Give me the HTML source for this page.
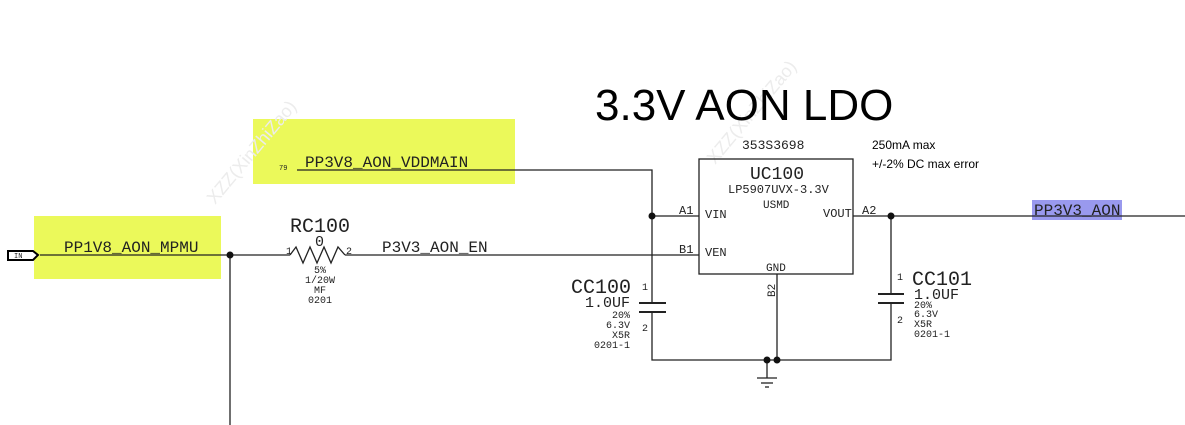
<!DOCTYPE html>
<html><head><meta charset="utf-8"><style>
body{margin:0;background:#fff;width:1185px;height:425px;overflow:hidden}
svg{display:block}
.m{font-family:"Liberation Mono","DejaVu Sans Mono",monospace;fill:#222}
.s{font-family:"Liberation Sans",sans-serif;fill:#000}
</style></head><body>
<svg width="1185" height="425" viewBox="0 0 1185 425">
<rect x="253" y="119" width="262" height="65" fill="#ebf95a"/>
<rect x="34" y="216" width="187" height="63" fill="#ebf95a"/>
<rect x="1032" y="200" width="90" height="20" fill="#9999ee"/>
<text x="215" y="205" transform="rotate(-50 215 205)" font-family="Liberation Sans" font-size="18" fill="#ececec">XZZ(XinZhiZao)</text>
<text x="715" y="165" transform="rotate(-50 715 165)" font-family="Liberation Sans" font-size="18" fill="#ececec">XZZ(XinZhiZao)</text>
<text x="595" y="120" class="s" font-size="44">3.3V AON LDO</text>
<text x="872" y="149" class="s" font-size="12">250mA max</text>
<text x="872" y="168" class="s" font-size="12">+/-2% DC max error</text>
<text x="742" y="149" class="m" font-size="13">353S3698</text>
<g stroke="#222" stroke-width="1.3" fill="none">
<rect x="699" y="159" width="154" height="115"/>
<polyline points="297,170 652,170 652,360 891,360 891,216"/>
<line x1="652" y1="216" x2="699" y2="216"/>
<line x1="40" y1="255" x2="290" y2="255"/>
<polyline points="290,255 296,247 303,263 310,247 317,263 324,247 331,263 338,247 345,255"/>
<line x1="345" y1="255" x2="699" y2="255"/>
<line x1="230" y1="255" x2="230" y2="425"/>
<line x1="777" y1="274" x2="777" y2="360"/>
<line x1="853" y1="216" x2="1185" y2="216"/>
<line x1="767" y1="360" x2="767" y2="378"/>
<line x1="757" y1="378" x2="777" y2="378"/>
<line x1="761" y1="383" x2="773" y2="383"/>
<line x1="765" y1="387" x2="769" y2="387"/>
</g>
<g stroke="#222" stroke-width="2">
<line x1="639" y1="303" x2="666" y2="303"/><line x1="639" y1="312" x2="666" y2="312"/>
<line x1="878" y1="294" x2="904" y2="294"/><line x1="878" y1="303" x2="904" y2="303"/>
</g>
<rect x="640" y="304" width="25" height="7" fill="#fff"/>
<rect x="879" y="295" width="24" height="7" fill="#fff"/>
<g fill="#111"><circle cx="230" cy="255" r="3.5"/><circle cx="652" cy="216" r="3.5"/><circle cx="891" cy="216" r="3.5"/><circle cx="767" cy="360" r="3.5"/><circle cx="777" cy="360" r="3.5"/></g>
<polygon points="8,251 33,251 38,255 33,260 8,260" fill="#fff" stroke="#000" stroke-width="2"/>
<text x="14" y="258" class="m" font-size="7">IN</text>
<text x="64" y="252" class="m" font-size="16">PP1V8_AON_MPMU</text>
<text x="279" y="170" class="m" font-size="7">79</text>
<text x="305" y="167" class="m" font-size="16">PP3V8_AON_VDDMAIN</text>
<text x="1034" y="215" class="m" font-size="16">PP3V3_AON</text>
<text x="382" y="252" class="m" font-size="16">P3V3_AON_EN</text>
<text x="290" y="232" class="m" font-size="20">RC100</text>
<text x="315" y="246" class="m" font-size="15">0</text>
<text x="286" y="254" class="m" font-size="10">1</text>
<text x="346" y="254" class="m" font-size="10">2</text>
<g class="m" font-size="10" text-anchor="middle"><text x="320" y="273">5%</text><text x="320" y="283">1/20W</text><text x="320" y="293">MF</text><text x="320" y="303">0201</text></g>
<text x="750" y="179" class="m" font-size="18">UC100</text>
<text x="728" y="193" class="m" font-size="12">LP5907UVX-3.3V</text>
<text x="763" y="208" class="m" font-size="11">USMD</text>
<text x="705" y="218" class="m" font-size="12">VIN</text>
<text x="705" y="256" class="m" font-size="12">VEN</text>
<text x="823" y="217" class="m" font-size="12">VOUT</text>
<text x="766" y="271" class="m" font-size="11">GND</text>
<text x="679" y="214" class="m" font-size="12">A1</text>
<text x="679" y="253" class="m" font-size="12">B1</text>
<text x="862" y="214" class="m" font-size="12">A2</text>
<text x="775" y="297" class="m" font-size="11" transform="rotate(-90 775 297)">B2</text>
<text x="571" y="293" class="m" font-size="20">CC100</text>
<text x="585" y="307" class="m" font-size="15">1.0UF</text>
<g class="m" font-size="10" text-anchor="end"><text x="630" y="318">20%</text><text x="630" y="328">6.3V</text><text x="630" y="338">X5R</text><text x="630" y="348">0201-1</text></g>
<text x="642" y="290" class="m" font-size="10">1</text>
<text x="642" y="331" class="m" font-size="10">2</text>
<text x="912" y="285" class="m" font-size="20">CC101</text>
<text x="914" y="299" class="m" font-size="15">1.0UF</text>
<g class="m" font-size="10"><text x="914" y="308">20%</text><text x="914" y="317">6.3V</text><text x="914" y="327">X5R</text><text x="914" y="337">0201-1</text></g>
<text x="897" y="280" class="m" font-size="10">1</text>
<text x="897" y="323" class="m" font-size="10">2</text>
</svg>
</body></html>
